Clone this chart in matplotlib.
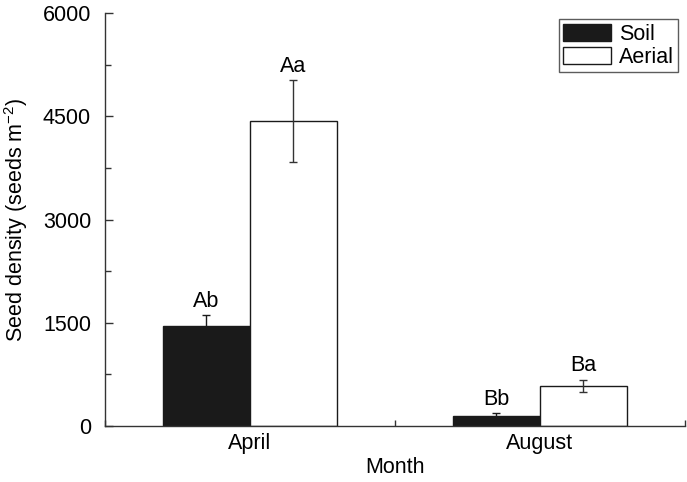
import numpy as np
import matplotlib
matplotlib.use('Agg')
import matplotlib.pyplot as plt

plt.rcParams['font.family'] = ['Liberation Sans', 'DejaVu Sans']
plt.rcParams['mathtext.fontset'] = 'custom'
plt.rcParams['mathtext.rm'] = 'Liberation Sans'
plt.rcParams['mathtext.it'] = 'Liberation Sans:italic'

# DATA
months = ['April', 'August']
soil = [1450, 145]
soil_err = [160, 45]
aerial = [4430, 585]
aerial_err = [590, 90]
soil_letters = ['Ab', 'Bb']
aerial_letters = ['Aa', 'Ba']

fig = plt.figure(figsize=(6.87, 4.82), dpi=100)
ax = fig.add_axes([0.1528, 0.116, 0.8442, 0.857])

x = np.arange(1, len(months) + 1)
w = 0.3

ax.bar(x - w / 2, soil, w, color='#1a1a1a', edgecolor='#1a1a1a', linewidth=1, label='Soil')
ax.bar(x + w / 2, aerial, w, color='white', edgecolor='#1a1a1a', linewidth=1, label='Aerial')
ax.errorbar(x - w / 2, soil, yerr=soil_err, fmt='none', ecolor='#1a1a1a', elinewidth=1, capsize=3, capthick=1)
ax.errorbar(x + w / 2, aerial, yerr=aerial_err, fmt='none', ecolor='#333333', elinewidth=1, capsize=3, capthick=1)

for i in range(len(months)):
    ax.text(x[i] - w / 2, soil[i] + soil_err[i] + 50, soil_letters[i], ha='center', va='bottom', fontsize=15.5)
    ax.text(x[i] + w / 2, aerial[i] + aerial_err[i] + 50, aerial_letters[i], ha='center', va='bottom', fontsize=15.5)

ax.set_xlim(0.5, 2.5)
ax.set_ylim(0, 6000)
ax.set_xticks(x)
ax.set_xticklabels(months)
ax.set_xticks([0.5, 1.5, 2.5], minor=True)
ax.set_yticks([0, 1500, 3000, 4500, 6000])
ax.set_yticks([750, 2250, 3750, 5250], minor=True)
ax.tick_params(which='both', direction='in', labelsize=15.5, color='#333333', width=1)
ax.tick_params(which='major', length=6)
ax.tick_params(which='minor', length=4)
ax.tick_params(axis='y', which='major', pad=10)
ax.tick_params(axis='x', which='major', length=0, pad=5)

for s in ['top', 'right']:
    ax.spines[s].set_visible(False)
for s in ['left', 'bottom']:
    ax.spines[s].set_color('#333333')
    ax.spines[s].set_linewidth(1)

ax.set_xlabel('Month', fontsize=15.5, labelpad=2)
ax.set_ylabel('Seed density (seeds m$^{-2}$)', fontsize=15.5)
ax.yaxis.set_label_coords(-0.13, 0.5)

leg = ax.legend(loc='upper right', fontsize=15.5, frameon=True, fancybox=False, edgecolor='#333333',
                handlelength=2.2, handleheight=0.8, borderpad=0.2, labelspacing=0.1, handletextpad=0.4,
                borderaxespad=0.3)
leg.get_frame().set_linewidth(1)

fig.savefig('out.png', dpi=100)
